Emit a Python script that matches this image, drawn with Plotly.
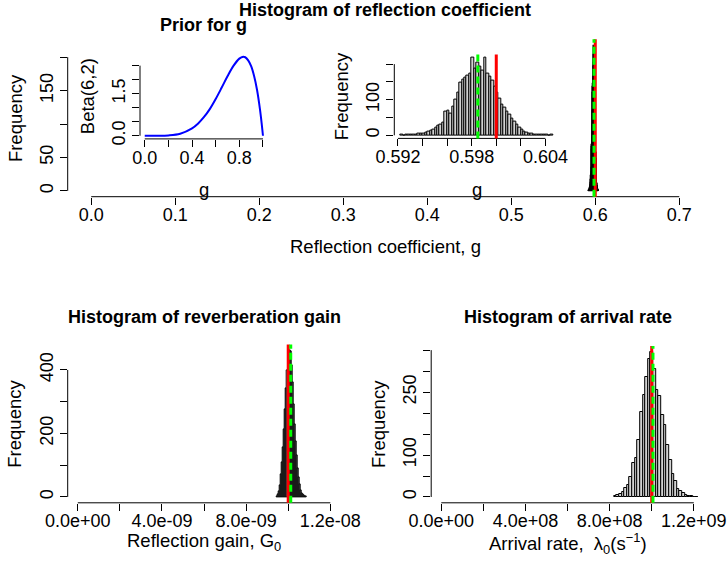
import plotly.graph_objects as go

FONT = "Liberation Sans, Arial, Helvetica, sans-serif"
W, H = 727, 562

# ---------------- data ----------------
# posterior samples of reflection coefficient g (histogram counts)
g_bin_start = 0.5922
g_bin_width = 0.0002
g_counts = [1, 0, 1, 1, 2, 3, 3, 4, 5, 6, 8, 10, 13, 17, 23, 27, 29, 36, 66, 69,
            62, 80, 100, 121, 148, 157, 161, 169, 172, 218, 187, 205, 192, 182, 217, 174,
            165, 153, 137, 120, 102, 86, 77, 66, 58, 48, 38, 30, 22, 17, 11, 8, 5, 4,
            3, 2, 2, 1, 1, 1, 0, 1]
g_true = 0.6
g_mean = 0.5985

# prior density Beta(6,2)
prior_x = [0.0, 0.1, 0.2, 0.3, 0.4, 0.45, 0.5, 0.55, 0.6, 0.65, 0.7, 0.75, 0.8,
           0.825, 0.85, 0.875, 0.9, 0.925, 0.95, 0.975, 0.99, 1.0]
prior_y = [0.0, 0.0, 0.01, 0.07, 0.26, 0.43, 0.66, 0.95, 1.31, 1.71, 2.12, 2.49, 2.75,
           2.81, 2.80, 2.69, 2.48, 2.13, 1.63, 0.93, 0.40, 0.0]

# reverberation gain G0
G0_bin_start = 9.45e-9
G0_bin_width = 5e-11
G0_counts = [2, 7, 18, 36, 70, 110, 155, 213, 277, 343, 400, 450, 462, 458, 415, 360,
             290, 230, 175, 130, 90, 62, 38, 20, 12, 8, 6, 3, 1]
G0_true = 1e-8
G0_mean = 1.012e-8

# arrival rate lambda0
lam_bin_start = 8.2e8
lam_bin_width = 1.25e7
lam_counts = [2, 4, 7, 13, 21, 29, 48, 80, 92, 136, 203, 243, 285, 330, 346, 305,
              255, 240, 195, 171, 124, 88, 55, 38, 20, 14, 9, 5, 3, 2, 1, 1]
lam_true = 1e9
lam_mean = 1.006e9

# tick values / labels ("" = tick drawn without a label, as R drops overlapping labels)
main_xt = [0.0, 0.1, 0.2, 0.3, 0.4, 0.5, 0.6, 0.7]
main_xl = ["0.0", "0.1", "0.2", "0.3", "0.4", "0.5", "0.6", "0.7"]
main_yt = [0, 50, 100, 150, 200]
main_yl = ["0", "50", "", "150", ""]
prior_xt = [0.0, 0.2, 0.4, 0.6, 0.8, 1.0]
prior_xl = ["0.0", "", "0.4", "", "0.8", ""]
prior_yt = [0.0, 0.5, 1.0, 1.5, 2.0, 2.5]
prior_yl = ["0.0", "", "", "1.5", "", ""]
zoom_xt = [0.592, 0.594, 0.596, 0.598, 0.600, 0.602, 0.604]
zoom_xl = ["0.592", "", "", "0.598", "", "", "0.604"]
zoom_yt = [0, 50, 100, 150, 200]
zoom_yl = ["0", "", "100", "", ""]
G0_xt = [0, 2e-9, 4e-9, 6e-9, 8e-9, 1e-8, 1.2e-8]
G0_xl = ["0.0e+00", "", "4.0e-09", "", "8.0e-09", "", "1.2e-08"]
G0_yt = [0, 100, 200, 300, 400]
G0_yl = ["0", "", "200", "", "400"]
lam_xt = [0, 2e8, 4e8, 6e8, 8e8, 1e9, 1.2e9]
lam_xl = ["0.0e+00", "", "4.0e+08", "", "8.0e+08", "", "1.2e+09"]
lam_yt = [0, 50, 100, 150, 200, 250, 300, 350]
lam_yl = ["0", "", "100", "", "", "250", "", ""]


# ---------------- helpers ----------------
def px_x(x):
    return x / W


def px_y(y):
    return 1 - y / H


def pad(lo, hi, f=0.04):
    d = hi - lo
    return [lo - f * d, hi + f * d]


def hist_trace(start, width, counts, xa, ya):
    xs = [start + width * (i + 0.5) for i in range(len(counts))]
    return go.Bar(x=xs, y=counts, width=width, xaxis=xa, yaxis=ya,
                  marker=dict(color="#d3d3d3", line=dict(color="black", width=1)),
                  showlegend=False, hoverinfo="skip")


fig = go.Figure()
fig.add_trace(hist_trace(g_bin_start, g_bin_width, g_counts, "x", "y"))
fig.add_trace(go.Scatter(x=prior_x, y=prior_y, mode="lines", line=dict(color="blue", width=2, shape="spline"),
                         xaxis="x2", yaxis="y2", showlegend=False, hoverinfo="skip"))
fig.add_trace(hist_trace(g_bin_start, g_bin_width, g_counts, "x3", "y3"))
fig.add_trace(hist_trace(G0_bin_start, G0_bin_width, G0_counts, "x4", "y4"))
fig.add_trace(hist_trace(lam_bin_start, lam_bin_width, lam_counts, "x5", "y5"))

TICKFONT = dict(family=FONT, size=18, color="black")


def tick_spec(tv, tt):
    lab = [(v, t) for v, t in zip(tv, tt) if t]
    return dict(tickmode="array", tickvals=[v for v, _ in lab], ticktext=[t for _, t in lab],
                ticks="outside", ticklen=7, tickwidth=1, tickcolor="black",
                minor=dict(tickmode="array", tickvals=tv, ticks="outside", ticklen=7,
                           tickwidth=1, tickcolor="black", showgrid=False))


def xaxis(dom, rng, tv, tt, anchor):
    d = dict(domain=[px_x(dom[0]), px_x(dom[1])], range=rng,
             showline=False, showgrid=False, zeroline=False, anchor=anchor,
             tickfont=TICKFONT, tickangle=0, fixedrange=True, automargin=False,
             ticklabelstandoff=-5)
    d.update(tick_spec(tv, tt))
    return d


def yaxis(dom, rng, tv, tt, anchor):
    d = dict(domain=[px_y(dom[1]), px_y(dom[0])], range=rng,
             showline=False, showgrid=False, zeroline=False, anchor=anchor,
             tickfont=TICKFONT, tickangle=-90, fixedrange=True, automargin=False)
    d.update(tick_spec(tv, tt))
    return d


main_xd, main_yd = (67.7, 702.8), (39.3, 196.7)
prior_xd, prior_yd = (140.0, 267.7), (53.8, 138.9)
zoom_xd, zoom_yd = (394.3, 558.9), (54.6, 138.4)
G0_xd, G0_yd = (67.7, 340.4), (344.4, 502.8)
lam_xd, lam_yd = (431.2, 703.9), (346.0, 502.8)

fig.update_layout(
    template="none",
    xaxis=xaxis(main_xd, pad(0, 0.7), main_xt, main_xl, "y"),
    yaxis=yaxis(main_yd, pad(0, max(g_counts)), main_yt, main_yl, "x"),
    xaxis2=xaxis(prior_xd, pad(0, 1), prior_xt, prior_xl, "y2"),
    yaxis2=yaxis(prior_yd, pad(0, max(prior_y)), prior_yt, prior_yl, "x2"),
    xaxis3=xaxis(zoom_xd, pad(0.5922, 0.6046), zoom_xt, zoom_xl, "y3"),
    yaxis3=yaxis(zoom_yd, pad(0, max(g_counts)), zoom_yt, zoom_yl, "x3"),
    xaxis4=xaxis(G0_xd, pad(0, 1.2e-8), G0_xt, G0_xl, "y4"),
    yaxis4=yaxis(G0_yd, pad(0, max(G0_counts)), G0_yt, G0_yl, "x4"),
    xaxis5=xaxis(lam_xd, pad(0, 1.2e9), lam_xt, lam_xl, "y5"),
    yaxis5=yaxis(lam_yd, pad(0, max(lam_counts)), lam_yt, lam_yl, "x5"),
)

shapes = []
for xa, ya, xt, yt in [("x", "y", main_xt, main_yt), ("x2", "y2", prior_xt, prior_yt),
                       ("x3", "y3", zoom_xt, zoom_yt), ("x4", "y4", G0_xt, G0_yt),
                       ("x5", "y5", lam_xt, lam_yt)]:
    shapes.append(dict(type="line", xref=xa, yref=ya + " domain", x0=xt[0], x1=xt[-1], y0=0, y1=0,
                       line=dict(color="black", width=1)))
    shapes.append(dict(type="line", xref=xa + " domain", yref=ya, x0=0, x1=0, y0=yt[0], y1=yt[-1],
                       line=dict(color="black", width=1)))

for xa, ya, tv, mv in [("x", "y", g_true, g_mean), ("x3", "y3", g_true, g_mean),
                       ("x4", "y4", G0_true, G0_mean), ("x5", "y5", lam_true, lam_mean)]:
    shapes.append(dict(type="line", xref=xa, yref=ya + " domain", x0=tv, x1=tv, y0=0, y1=1,
                       line=dict(color="red", width=3)))
    shapes.append(dict(type="line", xref=xa, yref=ya + " domain", x0=mv, x1=mv, y0=0, y1=1,
                       line=dict(color="#00ff00", width=3, dash="7px,4px")))

LABFONT = dict(family=FONT, size=18.5, color="black")
TITFONT = dict(family=FONT, size=18, color="black")


def ann(text, x, y, font, angle=0):
    return dict(text=text, x=px_x(x), y=px_y(y), xref="paper", yref="paper",
                xanchor="center", yanchor="middle", showarrow=False, font=font, textangle=angle)


annotations = [
    ann("<b>Histogram of reflection coefficient</b>", 385.3, 10, TITFONT),
    ann("<b>Prior for g</b>", 203.9, 25, TITFONT),
    ann("Reflection coefficient, g", 385.3, 246.5, LABFONT),
    ann("Frequency", 15.1, 118, LABFONT, -90),
    ann("g", 203.9, 189.5, LABFONT),
    ann("Beta(6,2)", 87.8, 96.4, LABFONT, -90),
    ann("g", 476.6, 189.5, LABFONT),
    ann("Frequency", 341.7, 96.5, LABFONT, -90),
    ann("<b>Histogram of reverberation gain</b>", 204.0, 317, TITFONT),
    ann("<b>Histogram of arrival rate</b>", 567.5, 317, TITFONT),
    ann("Frequency", 15.1, 423.6, LABFONT, -90),
    ann("Frequency", 378.6, 424.4, LABFONT, -90),
    ann("Reflection gain, G<sub>0</sub>", 204.0, 541.5, LABFONT),
    ann("Arrival rate,  λ<sub>0</sub>(s<sup>−1</sup>)", 567.5, 543.0, LABFONT),
]

fig.update_layout(
    width=W, height=H, margin=dict(l=0, r=0, t=0, b=0, pad=0),
    paper_bgcolor="white", plot_bgcolor="rgba(0,0,0,0)",
    barmode="overlay", bargap=0, showlegend=False,
    shapes=shapes, annotations=annotations,
    font=dict(family=FONT, color="black"),
)

fig.write_html("out.html", config={"displayModeBar": False},
               post_script="document.body.style.margin='0';document.body.style.padding='0';")
